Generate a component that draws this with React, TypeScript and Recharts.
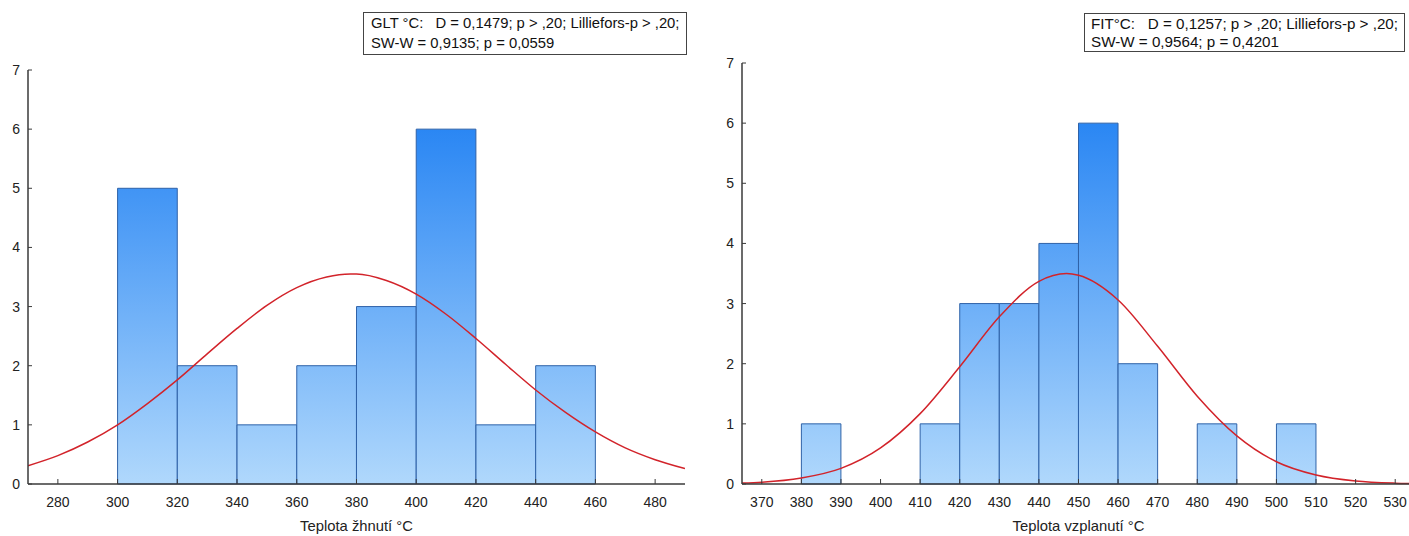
import { ComposedChart, Bar, Line, XAxis, YAxis } from "recharts"

// left chart: GLT (teplota žhnutí), bins of 20 °C
const gltBinCenters = [310, 330, 350, 370, 390, 410, 430, 450]
const gltCounts = [5, 2, 1, 2, 3, 6, 1, 2]
const gltCurveX = [270, 280, 290, 300, 310, 320, 330, 340, 350, 360, 370, 378, 380, 390, 400, 410, 420, 430, 440, 450, 460, 470, 480, 490]
const gltCurveY = [0.31, 0.48, 0.71, 1.0, 1.36, 1.76, 2.2, 2.63, 3.02, 3.32, 3.5, 3.55, 3.55, 3.44, 3.21, 2.87, 2.46, 2.02, 1.59, 1.21, 0.88, 0.61, 0.41, 0.26]
const gltTicks = [280, 300, 320, 340, 360, 380, 400, 420, 440, 460, 480]

// right chart: FIT (teplota vzplanutí), bins of 10 °C
const fitBinCenters = [385, 395, 405, 415, 425, 435, 445, 455, 465, 475, 485, 495, 505]
const fitCounts = [1, 0, 0, 1, 3, 3, 4, 6, 2, 0, 1, 0, 1]
const fitCurveX = [365, 370, 380, 390, 400, 410, 420, 430, 440, 447, 450, 460, 470, 480, 490, 500, 510, 520, 530, 535]
const fitCurveY = [0.016, 0.03, 0.1, 0.26, 0.6, 1.17, 1.95, 2.78, 3.37, 3.5, 3.47, 3.06, 2.29, 1.46, 0.8, 0.37, 0.15, 0.05, 0.014, 0.007]
const fitTicks = [370, 380, 390, 400, 410, 420, 430, 440, 450, 460, 470, 480, 490, 500, 510, 520, 530]

const yTicks = [0, 1, 2, 3, 4, 5, 6, 7]

const font = "'Liberation Sans', Arial, sans-serif"
const axisColor = "#3a3a3a"

type HistProps = {
  id: string
  centers: number[]
  counts: number[]
  curveX: number[]
  curveY: number[]
  xTicks: number[]
  domain: [number, number]
  binWidth: number
  width: number
  top: number
  yAxisWidth: number
  rightMargin: number
  title: string
}

function Histogram(p: HistProps) {
  const bins = p.centers.map((x, i) => ({ x, n: p.counts[i] }))
  const curve = p.curveX.map((x, i) => ({ x, y: p.curveY[i] }))
  const plotW = p.width - p.yAxisWidth - p.rightMargin
  // a hair under the band so recharts does not fall back to 90% width
  const barSize = (plotW * p.binWidth) / (p.domain[1] - p.domain[0]) - 0.05
  const tickStyle = { fontSize: 14, fill: "#222", fontFamily: font }

  return (
    <ComposedChart
      width={p.width}
      height={536}
      data={bins}
      margin={{ top: p.top, right: p.rightMargin, bottom: 0, left: 0 }}
      barCategoryGap="0%"
      barGap={0}
    >
      <defs>
        <linearGradient id={p.id} gradientUnits="userSpaceOnUse" x1="0" y1={p.top} x2="0" y2={484}>
          <stop offset="0%" stopColor="#1479f2" />
          <stop offset="100%" stopColor="#b0d8fc" />
        </linearGradient>
      </defs>
      <XAxis
        dataKey="x"
        type="number"
        domain={p.domain}
        ticks={p.xTicks}
        allowDataOverflow
        height={52}
        tickSize={-5}
        tickMargin={18}
        tick={tickStyle}
        axisLine={{ stroke: axisColor, strokeWidth: 1.5 }}
        tickLine={{ stroke: axisColor }}
        label={{ value: p.title, position: "insideBottom", offset: 5, fontSize: 14.8, fill: "#222", fontFamily: font }}
      />
      <XAxis
        xAxisId="top"
        orientation="top"
        dataKey="x"
        type="number"
        domain={p.domain}
        ticks={p.xTicks}
        allowDataOverflow
        height={0}
        tickSize={-5}
        tick={false}
        axisLine={{ stroke: axisColor, strokeWidth: 1.5 }}
        tickLine={{ stroke: axisColor }}
      />
      <YAxis
        domain={[0, 7]}
        ticks={yTicks}
        width={p.yAxisWidth}
        tickSize={-4}
        tickMargin={12}
        tick={tickStyle}
        axisLine={{ stroke: axisColor, strokeWidth: 1.5 }}
        tickLine={{ stroke: axisColor }}
      />
      <YAxis
        yAxisId="right"
        orientation="right"
        domain={[0, 7]}
        ticks={yTicks}
        width={0}
        tickSize={-4}
        tick={false}
        axisLine={{ stroke: axisColor, strokeWidth: 1.5 }}
        tickLine={{ stroke: axisColor }}
      />
      <Bar
        dataKey="n"
        barSize={barSize}
        fill={`url(#${p.id})`}
        stroke="#2f62a8"
        strokeWidth={1}
        isAnimationActive={false}
      />
      <Line
        xAxisId="top"
        data={curve}
        dataKey="y"
        type="monotone"
        stroke="#d2232a"
        strokeWidth={1.5}
        dot={false}
        isAnimationActive={false}
      />
    </ComposedChart>
  )
}

const boxStyle = {
  position: "absolute" as const,
  border: "1.5px solid #444",
  background: "#fff",
  fontFamily: font,
  color: "#111",
  whiteSpace: "pre" as const,
  boxSizing: "border-box" as const,
}

export default function App() {
  return (
    <div style={{ position: "absolute", left: 0, top: 0, width: 1409, height: 536, overflow: "hidden", background: "#fff" }}>
      <div style={{ position: "absolute", left: 0, top: 0 }}>
        <Histogram
          id="gGlt"
          centers={gltBinCenters}
          counts={gltCounts}
          curveX={gltCurveX}
          curveY={gltCurveY}
          xTicks={gltTicks}
          domain={[270, 490]}
          binWidth={20}
          width={700}
          top={70}
          yAxisWidth={28}
          rightMargin={15}
          title="Teplota žhnutí °C"
        />
      </div>
      <div style={{ position: "absolute", left: 700, top: 0 }}>
        <Histogram
          id="gFit"
          centers={fitBinCenters}
          counts={fitCounts}
          curveX={fitCurveX}
          curveY={fitCurveY}
          xTicks={fitTicks}
          domain={[365, 535]}
          binWidth={10}
          width={725}
          top={63}
          yAxisWidth={42}
          rightMargin={10}
          title="Teplota vzplanutí °C"
        />
      </div>
      <div style={{ ...boxStyle, left: 363, top: 12, width: 324, height: 43, lineHeight: "20px", fontSize: 14.8, padding: "0 7px" }}>
        {"GLT °C:   D = 0,1479; p > ,20; Lilliefors-p > ,20;\nSW-W = 0,9135; p = 0,0559"}
      </div>
      <div style={{ ...boxStyle, left: 1084, top: 13, width: 321, height: 39, lineHeight: "17.5px", fontSize: 15.2, padding: "1px 6px 0" }}>
        {"FIT°C:   D = 0,1257; p > ,20; Lilliefors-p > ,20;\nSW-W = 0,9564; p = 0,4201"}
      </div>
    </div>
  )
}
